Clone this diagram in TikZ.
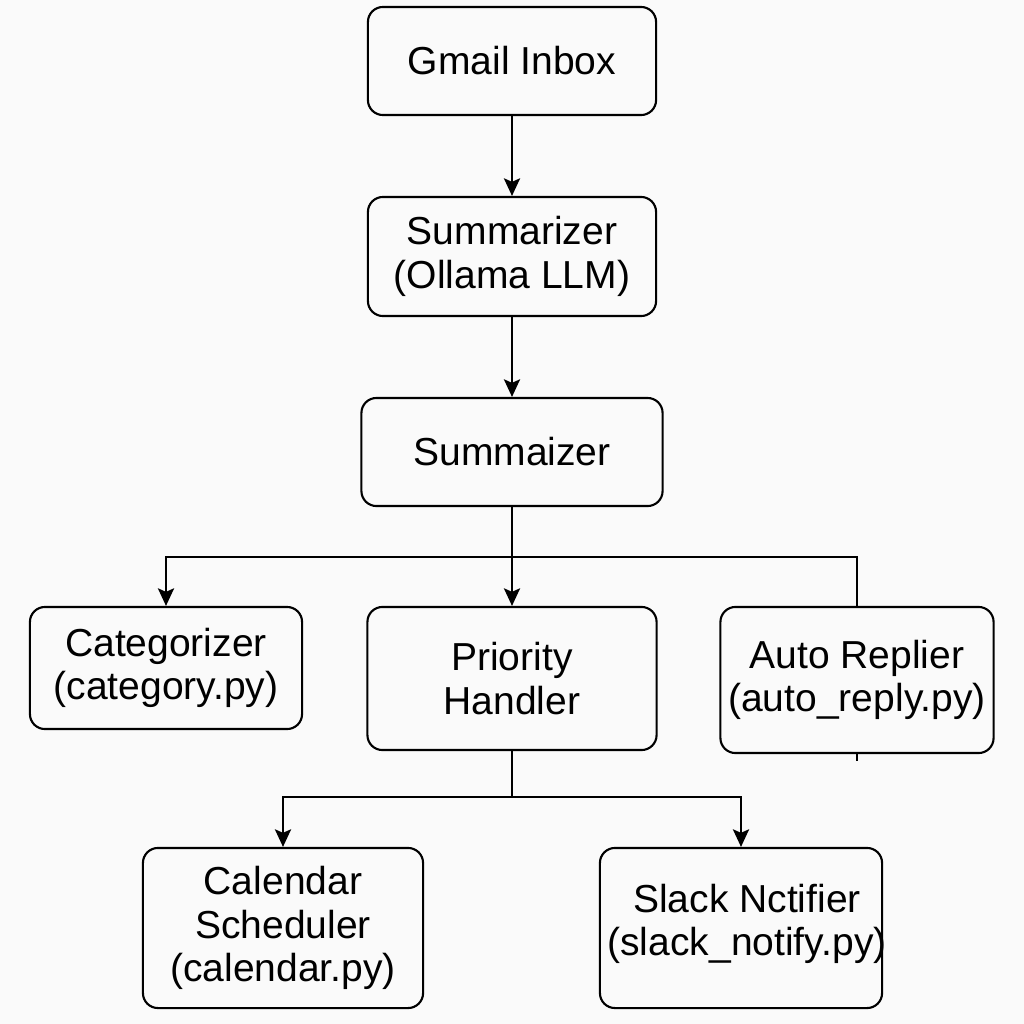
\documentclass[tikz,border=0pt]{standalone}
\usepackage{fontspec}
\setmainfont{Liberation Sans}
\usetikzlibrary{arrows.meta}
\tikzset{
	boite/.style={draw, rounded corners=0.15cm, line width=0.6pt, align=center, inner sep=0pt,
		font=\fontsize{11.1pt}{12.4pt}\selectfont},
	fleche/.style={-{Stealth[length=5pt,width=4.6pt,inset=1pt]}, line width=0.6pt},
	trait/.style={line width=0.6pt}
}
\begin{document}
\begin{tikzpicture}[x=0.01cm, y=-0.01cm]
	% le cadre
	\fill[white!98!black] (0,0) rectangle (1024,1024);
	\useasboundingbox (0,0) rectangle (1024,1024);
	% les boites
	\node[boite, minimum width=2.88cm, minimum height=1.08cm] (gmail) at (512,61) {Gmail Inbox};
	\node[boite, minimum width=2.88cm, minimum height=1.19cm] (ollama) at (512,256.5) {Summarizer\\(Ollama LLM)};
	\node[boite, minimum width=3.01cm, minimum height=1.08cm] (summ) at (512,452) {Summaizer};
	\node[boite, minimum width=2.72cm, minimum height=1.22cm] (cat) at (166,668) {Categorizer\\(category.py)};
	\node[boite, minimum width=2.89cm, minimum height=1.43cm] (prio) at (512,678.5) {Priority\\Handler};
	\node[boite, minimum width=2.73cm, minimum height=1.46cm] (auto) at (857,680) {Auto Replier\\(auto\_reply.py)};
	\node[boite, minimum width=2.80cm, minimum height=1.60cm] (cal) at (283,928) {Calendar\\Scheduler\\(calendar.py)};
	\node[boite, minimum width=2.82cm, minimum height=1.60cm] (slack) at (741,928) {};
	\node[boite, draw=none] (slacktxt) at (747,924) {Slack Nctifier\\(slack\_notify.py)};
	% les liaisons
	\coordinate (j1) at (512,557);
	\coordinate (j2) at (512,797);
	\coordinate (autotail) at (856,761);
	\draw[fleche] (gmail) -- (ollama);
	\draw[fleche] (ollama) -- (summ);
	\draw[fleche] (summ) -- (prio);
	\draw[fleche] (j1) -| (cat.north);
	\draw[trait] (j1) -| (auto.north);
	\draw[trait] (auto.south) -- (auto.south |- autotail);
	\draw[trait] (prio.south) -- (j2);
	\draw[fleche] (j2) -| (cal.north);
	\draw[fleche] (j2) -| (slack.north);
\end{tikzpicture}
\end{document}
